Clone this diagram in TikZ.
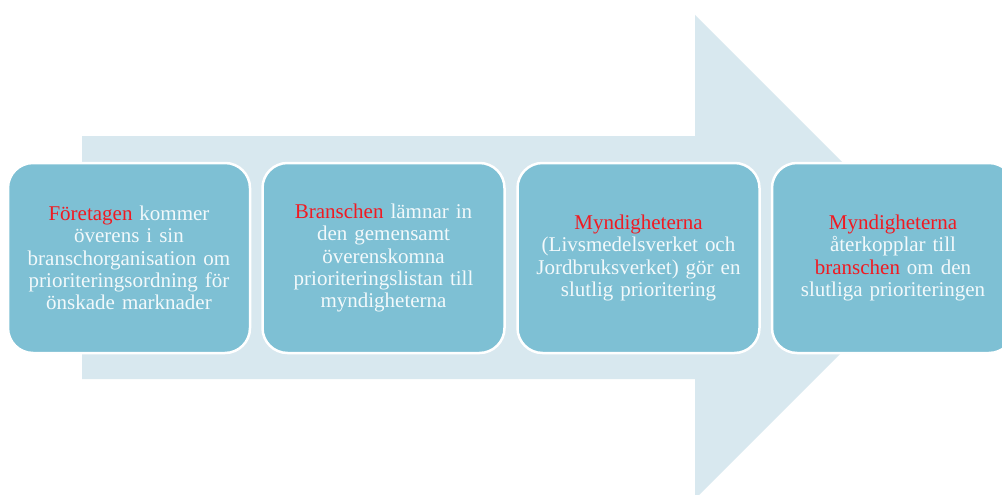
\documentclass[tikz,border=0pt]{standalone}
\usepackage{fontspec}
\setmainfont{Liberation Serif}
\definecolor{arrowbg}{HTML}{D8E8EF}
\definecolor{boxfill}{HTML}{7EC0D4}
\definecolor{boxtext}{HTML}{F2F9FB}
\definecolor{hl}{HTML}{F01A22}
\tikzset{
  stepbox/.style={draw=white, line width=2.5pt, fill=boxfill, rounded corners=25pt,
    minimum width=242pt, minimum height=190pt, inner sep=0pt, align=center,
    text width=235pt, text=boxtext, font=\fontsize{21}{22.4}\selectfont},
}
\newcommand{\hlt}[1]{\textcolor{hl}{#1}}
\begin{document}
\begin{tikzpicture}[x=1pt,y=-1pt]
\clip (0,0) rectangle (1002,495);
\fill[white] (0,0) rectangle (1002,495);
\fill[arrowbg] (82,136) -- (695,136) -- (695,15) -- (937,257) -- (695,499) -- (695,379) -- (82,379) -- cycle;
\node[stepbox] (b1) at (129,258) {\hlt{Företagen} kommer\\överens i sin\\branschorganisation om\\prioriteringsordning för\\önskade marknader};
\node[stepbox] (b2) at (383.5,258) {\hlt{Branschen} lämnar in\\den gemensamt\\överenskomna\\prioriteringslistan till\\myndigheterna};
\node[stepbox] (b3) at (638.5,258) {\hlt{Myndigheterna}\\(Livsmedelsverket och\\Jordbruksverket) gör en\\slutlig prioritering};
\node[stepbox] (b4) at (893,258) {\hlt{Myndigheterna}\\återkopplar till\\\hlt{branschen} om den\\slutliga prioriteringen};
\end{tikzpicture}
\end{document}
